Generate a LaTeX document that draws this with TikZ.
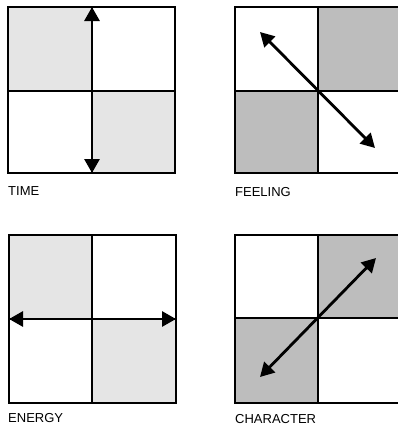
\documentclass[tikz,border=0pt]{standalone}
\usepackage{fontspec}
\setmainfont{Liberation Sans}
\usetikzlibrary{arrows.meta}
\tikzset{
  cell/.style={draw=black, line width=1.3pt},
  lightfill/.style={cell, fill=black!10},
  darkfill/.style={cell, fill=black!26},
  dblarrow/.style={line width=2.8pt, {Triangle[length=14pt,width=15pt]}-{Triangle[length=14pt,width=15pt]}},
  lbl/.style={anchor=west, inner sep=0pt, font=\fontsize{13}{15}\selectfont}
}
\begin{document}
\begin{tikzpicture}[x=1pt,y=-1pt]
\useasboundingbox (0,0) rectangle (398,432);
\clip (0,0) rectangle (398,432);
% Panel 1: TIME
\draw[lightfill] (8,7) rectangle (92,91);
\draw[cell] (92,7) rectangle (175,91);
\draw[cell] (8,91) rectangle (92,173);
\draw[lightfill] (92,91) rectangle (175,173);
\coordinate (t1) at (92,7);
\coordinate (t2) at (92,173);
\draw[dblarrow] (t1) -- (t2);
\node[lbl] (time) at (8,191) {TIME};
% Panel 2: FEELING
\draw[cell] (235,7) rectangle (318,91);
\draw[darkfill] (318,7) rectangle (402,91);
\draw[darkfill] (235,91) rectangle (318,173);
\draw[cell] (318,91) rectangle (402,173);
\coordinate (f1) at (260,32);
\coordinate (f2) at (375,148);
\draw[dblarrow] (f1) -- (f2);
\node[lbl] (feeling) at (235,192) {FEELING};
% Panel 3: ENERGY
\draw[lightfill] (9,235) rectangle (92,319);
\draw[cell] (92,235) rectangle (176,319);
\draw[cell] (9,319) rectangle (92,403);
\draw[lightfill] (92,319) rectangle (176,403);
\coordinate (e1) at (9,319);
\coordinate (e2) at (176,319);
\draw[dblarrow] (e1) -- (e2);
\node[lbl] (energy) at (8,418) {ENERGY};
% Panel 4: CHARACTER
\draw[cell] (235,235) rectangle (318,318);
\draw[darkfill] (318,235) rectangle (402,318);
\draw[darkfill] (235,318) rectangle (318,403);
\draw[cell] (318,318) rectangle (402,403);
\coordinate (c1) at (260,377);
\coordinate (c2) at (376,258);
\draw[dblarrow] (c1) -- (c2);
\node[lbl] (character) at (235,419) {CHARACTER};
\end{tikzpicture}
\end{document}
